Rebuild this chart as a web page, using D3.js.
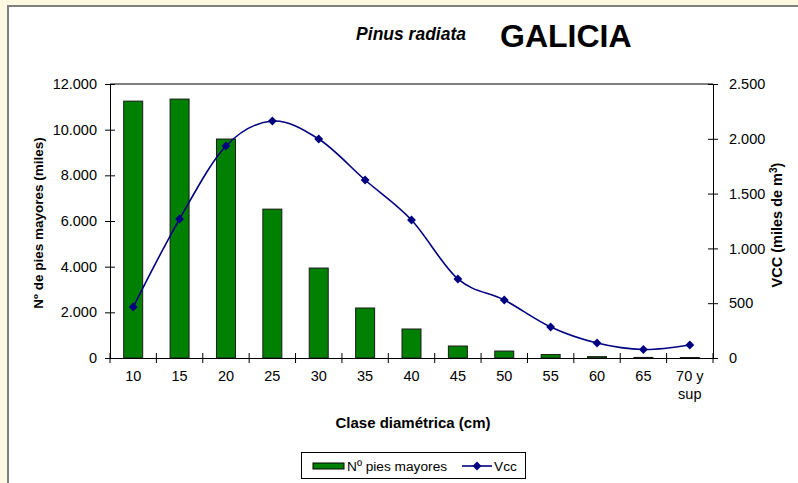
<!DOCTYPE html>
<html lang="es">
<head>
<meta charset="utf-8">
<title>Pinus radiata GALICIA</title>
<script src="https://d3js.org/d3.v7.min.js"></script>
<style>
  body { margin: 0; background: #fdf8e2; }
  svg { display: block; font-family: "Liberation Sans", Arial, sans-serif; }
</style>
</head>
<body>
<svg id="chart" width="798" height="483"></svg>
<script>
// Datos
const clases = ["10", "15", "20", "25", "30", "35", "40", "45", "50", "55", "60", "65", "70 y sup"];
const piesMayores = [11250, 11340, 9590, 6520, 3940, 2190, 1270, 525, 305, 150, 60, 25, 20];
const vcc = [465, 1268, 1934, 2162, 1998, 1624, 1259, 721, 529, 283, 137, 78, 119];
const ticksIzq = [0, 2000, 4000, 6000, 8000, 10000, 12000];
const ticksDer = [0, 500, 1000, 1500, 2000, 2500];

const svg = d3.select("#chart");
const W = 798, H = 483;
const m = { left: 110, right: 713, top: 84, bottom: 358 };

// fondo blanco del área del gráfico
svg.append("rect").attr("x", 8).attr("y", 5).attr("width", W - 8).attr("height", H - 5)
  .attr("fill", "#fff");
svg.append("path").attr("d", `M8,${H} V6 H${W}`).attr("fill", "none")
  .attr("stroke", "#7f7f7f").attr("stroke-width", 2);

const x = d3.scaleBand().domain(clases).range([m.left, m.right]);
const yL = d3.scaleLinear().domain([0, 12000]).range([m.bottom, m.top]);
const yR = d3.scaleLinear().domain([0, 2500]).range([m.bottom, m.top]);
const fmt = v => d3.format(",")(v).replace(/,/g, ".");

// títulos
svg.append("text").attr("x", 466).attr("y", 40).attr("text-anchor", "end")
  .attr("font-size", 17.5).attr("font-weight", "bold").attr("font-style", "italic")
  .text("Pinus radiata");
svg.append("text").attr("x", 500).attr("y", 47)
  .attr("font-size", 32).attr("font-weight", "bold").text("GALICIA");

// barras
const bw = 19;
svg.append("g").selectAll("rect").data(clases).join("rect")
  .attr("x", d => x(d) + x.bandwidth() / 2 - bw / 2)
  .attr("y", (d, i) => yL(piesMayores[i]))
  .attr("width", bw)
  .attr("height", (d, i) => m.bottom - yL(piesMayores[i]))
  .attr("fill", "#008000").attr("stroke", "#1a1a1a").attr("stroke-width", 1);

// borde superior del área de trazado
svg.append("line").attr("x1", m.left).attr("x2", m.right).attr("y1", m.top).attr("y2", m.top)
  .attr("stroke", "#000");

// eje izquierdo
const gL = svg.append("g").attr("transform", `translate(${m.left},0)`)
  .call(d3.axisLeft(yL).tickValues(ticksIzq).tickFormat(fmt).tickSizeInner(5).tickSizeOuter(0).tickPadding(8));
gL.selectAll(".tick line").attr("x2", 5).attr("x1", -5);

// eje derecho
const gR = svg.append("g").attr("transform", `translate(${m.right},0)`)
  .call(d3.axisRight(yR).tickValues(ticksDer).tickFormat(fmt).tickSizeInner(5).tickSizeOuter(0).tickPadding(11));
gR.selectAll(".tick line").attr("x1", -5).attr("x2", 5);

// eje inferior
const gB = svg.append("g").attr("transform", `translate(0,${m.bottom})`)
  .call(d3.axisBottom(x).tickSize(0).tickPadding(14));
gB.selectAll(".tick text").each(function (d) {
  const t = d3.select(this);
  if (d.indexOf(" y ") > 0) {
    t.text(null);
    t.append("tspan").attr("x", 0).attr("dy", "0.71em").text("70 y");
    t.append("tspan").attr("x", 0).attr("dy", "1.2em").text("sup");
    t.attr("dy", null);
  }
});
gB.selectAll(".tick text").attr("y", 13);
const fronteras = clases.map(c => x(c)).concat([m.right]);
gB.append("g").selectAll("line").data(fronteras).join("line")
  .attr("x1", d => d).attr("x2", d => d).attr("y1", -5).attr("y2", 5)
  .attr("stroke", "#000");

[gL, gR, gB].forEach(g => {
  g.selectAll("text").attr("font-size", 14.5).attr("fill", "#000")
    .attr("font-family", "'Liberation Sans', Arial, sans-serif");
  g.selectAll("path.domain, line").attr("stroke", "#000");
});

// línea Vcc
const pts = clases.map((c, i) => [x(c) + x.bandwidth() / 2, yR(vcc[i])]);
svg.append("path").datum(pts)
  .attr("d", d3.line().curve(d3.curveCatmullRom.alpha(0)))
  .attr("fill", "none").attr("stroke", "#000080").attr("stroke-width", 1.6);
const diamante = d3.symbol().type(d3.symbolDiamond2).size(50);
svg.append("g").selectAll("path").data(pts).join("path")
  .attr("transform", d => `translate(${d[0]},${d[1]})`)
  .attr("d", diamante).attr("fill", "#000080");

// títulos de ejes
svg.append("text").attr("transform", `translate(43,${(m.top + m.bottom) / 2 + 2}) rotate(-90)`)
  .attr("text-anchor", "middle").attr("font-size", 13.5).attr("font-weight", "bold")
  .text("Nº de pies mayores (miles)");
const tR = svg.append("text").attr("transform", `translate(782,${(m.top + m.bottom) / 2 + 4}) rotate(-90)`)
  .attr("text-anchor", "middle").attr("font-size", 14.5).attr("font-weight", "bold");
tR.append("tspan").text("VCC (miles de m");
tR.append("tspan").attr("font-size", 10).attr("dy", -5).text("3");
tR.append("tspan").attr("dy", 5).text(")");
svg.append("text").attr("x", 413).attr("y", 428).attr("text-anchor", "middle")
  .attr("font-size", 15).attr("font-weight", "bold").text("Clase diamétrica (cm)");

// leyenda
const lg = svg.append("g");
lg.append("rect").attr("x", 301.5).attr("y", 452.5).attr("width", 224).attr("height", 26)
  .attr("fill", "#fff").attr("stroke", "#000");
lg.append("rect").attr("x", 313).attr("y", 463).attr("width", 31).attr("height", 6)
  .attr("fill", "#008000").attr("stroke", "#000");
lg.append("text").attr("x", 347).attr("y", 470.5).attr("font-size", 13.7).text("Nº pies mayores");
lg.append("line").attr("x1", 462).attr("x2", 492).attr("y1", 466).attr("y2", 466)
  .attr("stroke", "#000080").attr("stroke-width", 1.6);
lg.append("path").attr("transform", "translate(477,466)").attr("d", diamante).attr("fill", "#000080");
lg.append("text").attr("x", 494).attr("y", 470.5).attr("font-size", 13.7).text("Vcc");
</script>
</body>
</html>
